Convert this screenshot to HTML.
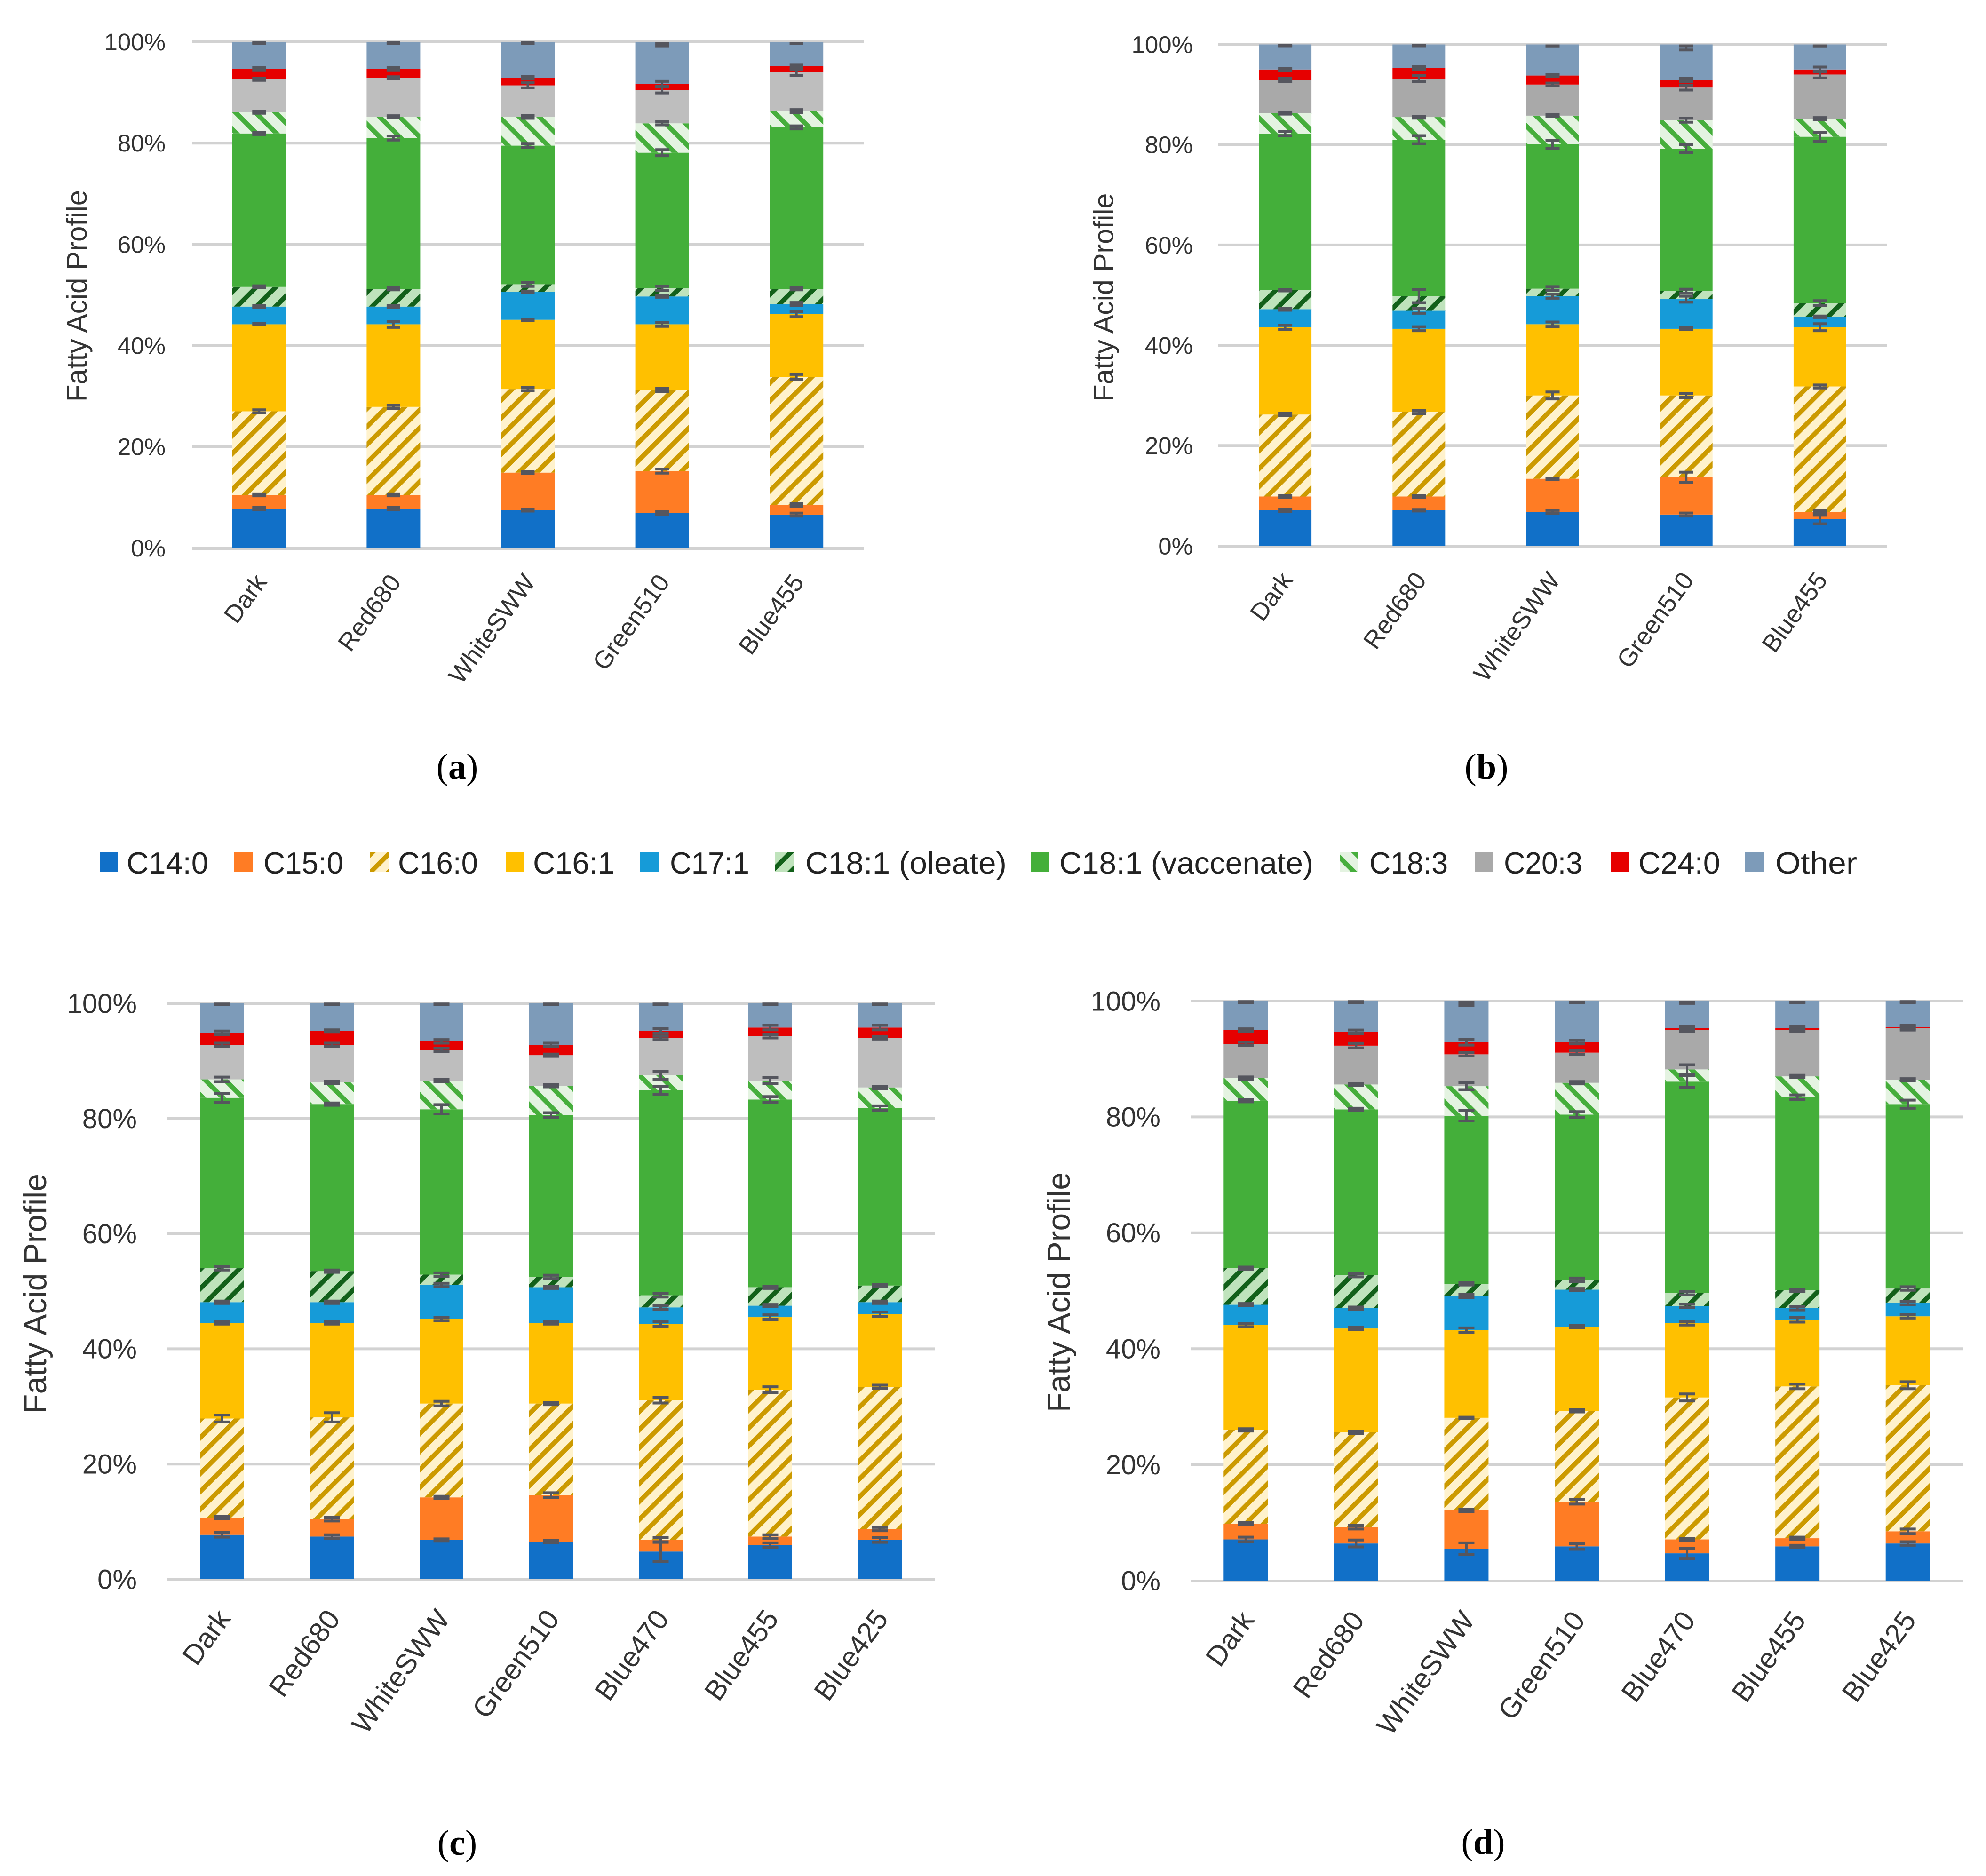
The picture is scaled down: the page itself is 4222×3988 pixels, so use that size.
<!DOCTYPE html>
<html lang="en">
<head>
<meta charset="utf-8">
<title>Fatty Acid Profile charts</title>
<style>
html,body{margin:0;padding:0;background:#fff;width:4222px;height:3988px;overflow:hidden}
svg{display:block}
text{font-family:"Liberation Sans",sans-serif;fill:#333}
.legend-text{font-size:65px;fill:#222}
.panel-label{font-family:"Liberation Serif",serif;font-size:76px;fill:#000}
</style>
</head>
<body>
<svg id="figure" xmlns="http://www.w3.org/2000/svg" width="4222" height="3988" viewBox="0 0 4222 3988">
  <defs>
    <pattern id="hatch-c160" patternUnits="userSpaceOnUse" width="27" height="27" patternTransform="rotate(45)">
      <rect width="27" height="27" fill="#FFF2CC"/><rect width="10" height="27" fill="#CC9A00"/>
    </pattern>
    <pattern id="hatch-oleate" patternUnits="userSpaceOnUse" width="29" height="29" patternTransform="rotate(45)">
      <rect width="29" height="29" fill="#BFE3BC"/><rect width="10" height="29" fill="#12601A"/>
    </pattern>
    <pattern id="hatch-c183" patternUnits="userSpaceOnUse" width="30" height="30" patternTransform="rotate(-45)">
      <rect width="30" height="30" fill="#E4F3E1"/><rect width="10" height="30" fill="#46AE3C"/>
    </pattern>
  </defs>
  <rect width="4222" height="3988" fill="#fff"/>

  <g>
    <g><rect x="212" y="1812" width="39" height="41" fill="#1170C8"/><text class="legend-text" x="269" y="1857" textLength="174" lengthAdjust="spacingAndGlyphs">C14:0</text></g>
    <g><rect x="498" y="1812" width="39" height="41" fill="#FF7C24"/><text class="legend-text" x="560" y="1857" textLength="170" lengthAdjust="spacingAndGlyphs">C15:0</text></g>
    <g><rect x="787" y="1812" width="39" height="41" fill="url(#hatch-c160)"/><text class="legend-text" x="846" y="1857" textLength="170" lengthAdjust="spacingAndGlyphs">C16:0</text></g>
    <g><rect x="1075" y="1812" width="39" height="41" fill="#FFC000"/><text class="legend-text" x="1133" y="1857" textLength="174" lengthAdjust="spacingAndGlyphs">C16:1</text></g>
    <g><rect x="1361" y="1812" width="39" height="41" fill="#169BD8"/><text class="legend-text" x="1424" y="1857" textLength="169" lengthAdjust="spacingAndGlyphs">C17:1</text></g>
    <g><rect x="1648" y="1812" width="39" height="41" fill="url(#hatch-oleate)"/><text class="legend-text" x="1712" y="1857" textLength="428" lengthAdjust="spacingAndGlyphs">C18:1 (oleate)</text></g>
    <g><rect x="2192" y="1812" width="39" height="41" fill="#44AF3A"/><text class="legend-text" x="2252" y="1857" textLength="540" lengthAdjust="spacingAndGlyphs">C18:1 (vaccenate)</text></g>
    <g><rect x="2849" y="1812" width="39" height="41" fill="url(#hatch-c183)"/><text class="legend-text" x="2911" y="1857" textLength="167" lengthAdjust="spacingAndGlyphs">C18:3</text></g>
    <g><rect x="3135" y="1812" width="39" height="41" fill="#A9A9A9"/><text class="legend-text" x="3197" y="1857" textLength="167" lengthAdjust="spacingAndGlyphs">C20:3</text></g>
    <g><rect x="3424" y="1812" width="39" height="41" fill="#E60000"/><text class="legend-text" x="3483" y="1857" textLength="174" lengthAdjust="spacingAndGlyphs">C24:0</text></g>
    <g><rect x="3710" y="1812" width="39" height="41" fill="#7D9BB9"/><text class="legend-text" x="3774" y="1857" textLength="174" lengthAdjust="spacingAndGlyphs">Other</text></g>
  </g>

  <text class="panel-label" x="972" y="1655" text-anchor="middle">(<tspan font-weight="bold">a</tspan>)</text>
  <text class="panel-label" x="3160" y="1655" text-anchor="middle">(<tspan font-weight="bold">b</tspan>)</text>
  <text class="panel-label" x="972" y="3943" text-anchor="middle">(<tspan font-weight="bold">c</tspan>)</text>
  <text class="panel-label" x="3153" y="3941" text-anchor="middle">(<tspan font-weight="bold">d</tspan>)</text>
</svg>

<script>
// ---------- Categories and ticks ----------
const categoriesFive = ['Dark', 'Red680', 'WhiteSWW', 'Green510', 'Blue455'];
const categoriesSeven = ['Dark', 'Red680', 'WhiteSWW', 'Green510', 'Blue470', 'Blue455', 'Blue425'];
const yTickValues = [0, 20, 40, 60, 80, 100];
const yTickLabels = ['0%', '20%', '40%', '60%', '80%', '100%'];
const seriesNames = ['C14:0', 'C15:0', 'C16:0', 'C16:1', 'C17:1', 'C18:1 (oleate)', 'C18:1 (vaccenate)', 'C18:3', 'C20:3', 'C24:0', 'Other'];

// ---------- Panel a values (percent) ----------
const aC140 = [7.8, 7.8, 7.5, 6.9, 6.6];
const aC150 = [2.7, 2.7, 7.4, 8.3, 1.9];
const aC160 = [16.5, 17.4, 16.5, 16.0, 25.3];
const aC161 = [17.2, 16.3, 13.7, 13.0, 12.4];
const aC171 = [3.5, 3.5, 5.5, 5.5, 2.0];
const aOleate = [3.9, 3.5, 1.5, 1.6, 3.0];
const aVaccenate = [30.3, 29.8, 27.4, 26.8, 31.9];
const aC183 = [4.2, 4.2, 5.7, 5.8, 3.2];
const aC203 = [6.5, 7.7, 6.2, 6.6, 7.7];
const aC240 = [2.1, 1.8, 1.5, 1.2, 1.2];
const aOther = [5.3, 5.3, 7.1, 8.3, 4.8];
// Panel a error half-widths
const aErrC140 = [.2, .2, .2, .3, .3];
const aErrC150 = [.2, .2, .15, .4, .3];
const aErrC160 = [.3, .3, .3, .3, .5];
const aErrC161 = [.15, .6, .15, .4, .5];
const aErrC171 = [.2, .2, .15, .15, .3];
const aErrOleate = [.2, .2, .4, .4, .2];
const aErrVaccenate = [.2, .4, .4, .6, .3];
const aErrC183 = [.2, .2, .3, .3, .3];
const aErrC203 = [.2, .2, .5, .6, .6];
const aErrC240 = [.25, .25, .25, .5, .3];
const aErrOther = [.15, .15, .15, .8, .3];

// ---------- Panel b values ----------
const bC140 = [7.1, 7.1, 6.8, 6.25, 5.3];
const bC150 = [2.75, 2.75, 6.6, 7.45, 1.5];
const bC160 = [16.35, 16.85, 16.6, 16.3, 25.0];
const bC161 = [17.4, 16.6, 14.2, 13.3, 11.8];
const bC171 = [3.6, 3.6, 5.6, 5.9, 2.1];
const bOleate = [3.8, 2.9, 1.5, 1.6, 2.7];
const bVaccenate = [31.2, 31.2, 28.8, 28.4, 33.2];
const bC183 = [4.1, 4.5, 5.7, 5.7, 3.6];
const bC203 = [6.6, 7.7, 6.2, 6.5, 8.8];
const bC240 = [2.1, 2.1, 1.8, 1.5, 1.0];
const bOther = [5.0, 4.7, 6.2, 7.1, 5.0];
const bErrC140 = [.2, .15, .3, .3, .9];
const bErrC150 = [.2, .15, .15, 1.0, .2];
const bErrC160 = [.25, .3, .7, .4, .3];
const bErrC161 = [.4, .4, .45, .2, .7];
const bErrC171 = [.2, .5, .4, .6, .15];
const bErrOleate = [.15, 1.3, .4, .4, .5];
const bErrVaccenate = [.4, .8, .8, .8, .9];
const bErrC183 = [.2, .2, .2, .4, .2];
const bErrC203 = [.3, .6, .3, .5, .7];
const bErrC240 = [.2, .3, .2, .3, .5];
const bErrOther = [.2, .2, .3, 1.1, .3];

// ---------- Panel c values ----------
const cC140 = [7.7, 7.4, 6.8, 6.5, 4.8, 5.9, 6.8];
const cC150 = [3.0, 3.0, 7.4, 8.1, 2.0, 1.5, 1.9];
const cC160 = [17.2, 17.7, 16.3, 15.9, 24.3, 25.5, 24.7];
const cC161 = [16.6, 16.4, 14.7, 14.0, 13.2, 12.6, 12.6];
const cC171 = [3.6, 3.6, 5.9, 6.2, 2.9, 2.0, 2.1];
const cOleate = [5.9, 5.4, 1.8, 1.8, 2.1, 3.2, 2.9];
const cVaccenate = [29.6, 29.0, 28.7, 28.1, 35.6, 32.6, 30.8];
const cC183 = [3.2, 3.8, 5.0, 5.1, 2.6, 3.3, 3.6];
const cC203 = [6.0, 6.5, 5.3, 5.3, 6.5, 7.7, 8.6];
const cC240 = [2.1, 2.4, 1.5, 1.8, 1.2, 1.5, 1.8];
const cOther = [5.1, 4.8, 6.6, 7.2, 4.8, 4.2, 4.2];
const cErrC140 = [.4, .3, .2, .2, 1.7, .4, .4];
const cErrC150 = [.2, .3, .2, .4, .4, .3, .3];
const cErrC160 = [.6, .8, .4, .2, .5, .5, .3];
const cErrC161 = [.2, .2, .3, .2, .4, .4, .4];
const cErrC171 = [.2, .2, .3, .2, .3, .2, .2];
const cErrOleate = [.3, .2, .3, .3, .3, .2, .2];
const cErrVaccenate = [.8, .2, .8, .4, .7, .5, .4];
const cErrC183 = [.4, .2, .2, .2, .7, .5, .2];
const cErrC203 = [.3, .3, .3, .2, .3, .3, .2];
const cErrC240 = [.3, .2, .3, .3, .4, .4, .4];
const cErrOther = [.1, .1, .1, .1, .1, .1, .1];

// ---------- Panel d values ----------
const dC140 = [7.1, 6.4, 5.5, 5.9, 4.7, 5.9, 6.4];
const dC150 = [2.7, 2.8, 6.6, 7.7, 2.4, 1.4, 2.1];
const dC160 = [16.2, 16.4, 16.0, 15.7, 24.5, 26.2, 25.2];
const dC161 = [18.1, 17.9, 15.1, 14.5, 12.8, 11.5, 11.9];
const dC171 = [3.5, 3.5, 5.9, 6.4, 3.0, 2.0, 2.3];
const dOleate = [6.3, 5.7, 2.1, 1.7, 2.2, 3.1, 2.5];
const dVaccenate = [28.9, 28.6, 29.0, 28.5, 36.5, 33.3, 31.8];
const dC183 = [3.9, 4.3, 5.1, 5.5, 2.1, 3.6, 4.2];
const dC203 = [5.9, 6.7, 5.5, 5.2, 6.8, 8.0, 8.9];
const dC240 = [2.4, 2.4, 2.1, 1.8, 0.3, 0.3, 0.2];
const dOther = [5.0, 5.3, 7.1, 7.1, 4.7, 4.7, 4.5];
const dErrC140 = [.4, .6, 1.0, .5, .9, .2, .3];
const dErrC150 = [.2, .3, .2, .4, .2, .2, .4];
const dErrC160 = [.2, .2, .1, .2, .6, .4, .6];
const dErrC161 = [.3, .2, .4, .2, .3, .4, .3];
const dErrC171 = [.2, .2, .3, .2, .3, .3, .3];
const dErrOleate = [.2, .3, .2, .3, .3, .2, .3];
const dErrVaccenate = [.2, .2, .9, .5, 1.0, .4, .7];
const dErrC183 = [.2, .2, .6, .2, .8, .2, .2];
const dErrC203 = [.3, .4, .3, .3, .3, .3, .3];
const dErrC240 = [.2, .3, .5, .3, .4, .3, .3];
const dErrOther = [.1, .1, .8, .2, .4, .2, .1];

const aSeries = [aC140, aC150, aC160, aC161, aC171, aOleate, aVaccenate, aC183, aC203, aC240, aOther];
const aErrors = [aErrC140, aErrC150, aErrC160, aErrC161, aErrC171, aErrOleate, aErrVaccenate, aErrC183, aErrC203, aErrC240, aErrOther];
const bSeries = [bC140, bC150, bC160, bC161, bC171, bOleate, bVaccenate, bC183, bC203, bC240, bOther];
const bErrors = [bErrC140, bErrC150, bErrC160, bErrC161, bErrC171, bErrOleate, bErrVaccenate, bErrC183, bErrC203, bErrC240, bErrOther];
const cSeries = [cC140, cC150, cC160, cC161, cC171, cOleate, cVaccenate, cC183, cC203, cC240, cOther];
const cErrors = [cErrC140, cErrC150, cErrC160, cErrC161, cErrC171, cErrOleate, cErrVaccenate, cErrC183, cErrC203, cErrC240, cErrOther];
const dSeries = [dC140, dC150, dC160, dC161, dC171, dOleate, dVaccenate, dC183, dC203, dC240, dOther];
const dErrors = [dErrC140, dErrC150, dErrC160, dErrC161, dErrC171, dErrOleate, dErrVaccenate, dErrC183, dErrC203, dErrC240, dErrOther];

// ---------- Drawing ----------
const NS = 'http://www.w3.org/2000/svg';
const svg = document.getElementById('figure');

function mk(tag, attrs, parent) {
  const e = document.createElementNS(NS, tag);
  for (const k in attrs) e.setAttribute(k, attrs[k]);
  parent.appendChild(e);
  return e;
}
function slug(s) { return s.toLowerCase().replace(/[^a-z0-9]+/g, '-').replace(/-$/, ''); }

function drawPanel(p) {
  const group = mk('g', {}, svg);
  
  

  const n = p.categories.length;
  const band = (p.x1 - p.x0) / n;
  const xc = i => p.x0 + band * (i + 0.5);
  const yv = v => p.y0 - v * (p.y0 - p.y100) / 100;
  const fills = ['#1170C8', '#FF7C24', 'url(#hatch-c160)', '#FFC000', '#169BD8', 'url(#hatch-oleate)', '#44AF3A', 'url(#hatch-c183)', p.grey, '#E60000', '#7D9BB9'];

  // gridlines and y ticks
  yTickValues.forEach((v, i) => {
    const line = mk('line', { x1: p.x0, x2: p.x1, y1: yv(v) + (v === 0 ? 1 : 0), y2: yv(v) + (v === 0 ? 1 : 0), stroke: '#D2D2D2', 'stroke-width': 6 }, group);
    
    
    const t = mk('text', { x: p.tickRight, y: yv(v) + p.tickFont * 0.35, 'text-anchor': 'end', 'font-size': p.tickFont }, group);
    
    
    t.textContent = yTickLabels[i];
  });

  // stacked segments
  for (let c = 0; c < n; c++) {
    let base = 0;
    p.series.forEach((vals, s) => {
      const top = base + vals[c];
      const r = mk('rect', { x: xc(c) - p.barWidth / 2, y: yv(top), width: p.barWidth, height: yv(base) - yv(top), fill: fills[s] }, group);
      
      
      base = top;
    });
  }

  // error bars
  for (let c = 0; c < n; c++) {
    let base = 0;
    p.series.forEach((vals, s) => {
      const top = base + vals[c];
      const e = p.errors[s][c];
      const hi = Math.min(100, top + e);
      const lo = top - e;
      const eg = mk('g', { stroke: '#55565E', fill: 'none' }, group);
      
      
      mk('line', { x1: xc(c), x2: xc(c), y1: yv(hi), y2: yv(lo), 'stroke-width': 5 }, eg);
      mk('line', { x1: xc(c) - p.capWidth / 2, x2: xc(c) + p.capWidth / 2, y1: yv(hi) + (hi >= 100 ? 3 : 0), y2: yv(hi) + (hi >= 100 ? 3 : 0), 'stroke-width': 6 }, eg);
      mk('line', { x1: xc(c) - p.capWidth / 2, x2: xc(c) + p.capWidth / 2, y1: yv(lo), y2: yv(lo), 'stroke-width': 6 }, eg);
      base = top;
    });
  }

  // x labels
  p.categories.forEach((name, c) => {
    const tx = xc(c) + 3;
    const ty = p.y0 + p.labelOffset;
    const t = mk('text', { x: tx, y: ty, 'text-anchor': 'end', 'font-size': p.labelFont, dy: '0.35em', transform: 'rotate(-54 ' + tx + ' ' + ty + ')' }, group);
    
    
    t.textContent = name;
  });

  // y-axis title
  const yt = mk('text', { x: p.titleX, y: p.titleY, 'text-anchor': 'middle', 'font-size': p.titleFont, dy: '0.35em', transform: 'rotate(-90 ' + p.titleX + ' ' + p.titleY + ')' }, group);
  
  
  yt.textContent = 'Fatty Acid Profile';
}

drawPanel({ id: 'a', categories: categoriesFive, series: aSeries, errors: aErrors, x0: 408, x1: 1836, y0: 1165, y100: 89, barWidth: 114, capWidth: 29, grey: '#BEBEBE', tickRight: 352, tickFont: 51, labelFont: 53, labelOffset: 62, titleX: 163, titleY: 629, titleFont: 60 });
drawPanel({ id: 'b', categories: categoriesFive, series: bSeries, errors: bErrors, x0: 2590, x1: 4011, y0: 1160.5, y100: 94.5, barWidth: 112, capWidth: 30, grey: '#A9A9A9', tickRight: 2536, tickFont: 51, labelFont: 53, labelOffset: 62, titleX: 2346, titleY: 632, titleFont: 59 });
drawPanel({ id: 'c', categories: categoriesSeven, series: cSeries, errors: cErrors, x0: 356, x1: 1987, y0: 3357, y100: 2133, barWidth: 93, capWidth: 34, grey: '#BEBEBE', tickRight: 291, tickFont: 58, labelFont: 60, labelOffset: 72, titleX: 74, titleY: 2750, titleFont: 68 });
drawPanel({ id: 'd', categories: categoriesSeven, series: dSeries, errors: dErrors, x0: 2531, x1: 4173, y0: 3360, y100: 2128, barWidth: 94, capWidth: 34, grey: '#A9A9A9', tickRight: 2467, tickFont: 58, labelFont: 60, labelOffset: 72, titleX: 2250, titleY: 2747, titleFont: 68 });
</script>
</body>
</html>
